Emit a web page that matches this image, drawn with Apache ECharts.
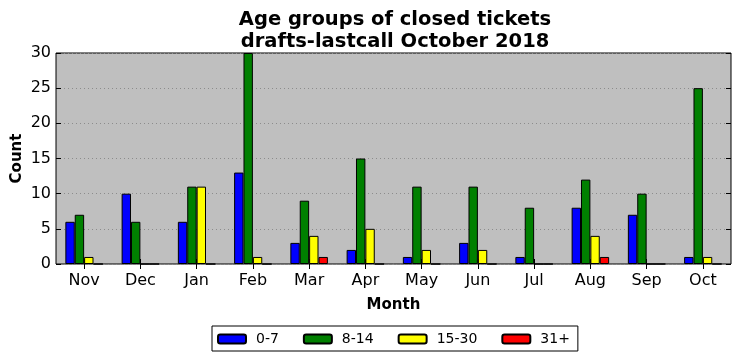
<!DOCTYPE html>
<html><head><meta charset="utf-8">
<script src="https://cdn.jsdelivr.net/npm/echarts@6/dist/echarts.min.js"></script>
<style>html,body{margin:0;padding:0;background:#fff}#c{width:742px;height:361px}</style>
</head><body><div id="c"></div>
<script>
const months = ['Nov','Dec','Jan','Feb','Mar','Apr','May','Jun','Jul','Aug','Sep','Oct'];
const seriesNames = ['0-7','8-14','15-30','31+'];
const seriesColors = ['#0000ff','#008000','#ffff00','#ff0000'];
const age0_7   = [6,10,6,13,3,2,1,3,1,8,7,1];
const age8_14  = [7,6,11,30,9,15,11,11,8,12,10,25];
const age15_30 = [1,0,11,1,4,5,2,2,0,4,0,1];
const age31p   = [0,0,0,0,1,0,0,0,0,1,0,0];
const yTicks = [0,5,10,15,20,25,30];

const values = [age0_7, age8_14, age15_30, age31p];
const font = 'DejaVu Sans';
const chart = echarts.init(document.getElementById('c'));
chart.setOption({
  animation:false,
  textStyle:{fontFamily:font},
  title:{text:'Age groups of closed tickets\ndrafts-lastcall October 2018', left:390, textAlign:'center', top:4,
    textStyle:{fontFamily:font,fontWeight:'bold',fontSize:19.5,lineHeight:22,color:'#000'}},
  grid:{left:56,right:11,top:53,bottom:97,outerBoundsMode:'none',containLabel:false,show:true,backgroundColor:'#bfbfbf',borderColor:'#000',borderWidth:1},
  legend:{data:seriesNames,left:212,top:326,padding:[6,8,5,5],itemGap:24,
    itemWidth:28,itemHeight:9,borderColor:'#000',borderWidth:1,borderRadius:0,
    textStyle:{fontFamily:font,fontSize:14,color:'#000',padding:[0,0,0,5]}},
  xAxis:[
    {type:'category',data:months,position:'bottom',boundaryGap:true,
     name:'Month',nameLocation:'middle',nameGap:34,nameMoveOverlap:false,nameTextStyle:{fontFamily:font,fontWeight:'bold',fontSize:15,color:'#000'},
     axisLine:{show:false},axisTick:{show:true,inside:true,alignWithLabel:true,length:5,lineStyle:{color:'#000'}},
     axisLabel:{fontFamily:font,fontSize:16,color:'#000',margin:9},splitLine:{show:false}},
    {type:'category',data:months,position:'top',boundaryGap:true,
     axisLine:{show:false},axisTick:{show:true,inside:true,alignWithLabel:true,length:5,lineStyle:{color:'#000'}},
     axisLabel:{show:false},splitLine:{show:false}}
  ],
  yAxis:[
    {type:'value',min:0,max:30,interval:5,position:'left',
     name:'Count',nameLocation:'middle',nameGap:31,nameMoveOverlap:false,nameTextStyle:{fontFamily:font,fontWeight:'bold',fontSize:15,color:'#000'},
     axisLine:{show:false},axisTick:{show:true,inside:true,length:5,lineStyle:{color:'#000'}},
     axisLabel:{fontFamily:font,fontSize:16,color:'#000',margin:5,formatter:v=>yTicks.includes(v)?String(v):''},
     splitLine:{show:true,lineStyle:{color:'#8c8c8c',type:[1,3],width:1}}},
    {type:'value',min:0,max:30,interval:5,position:'right',
     axisLine:{show:false},axisTick:{show:true,inside:true,length:5,lineStyle:{color:'#000'}},
     axisLabel:{show:false},splitLine:{show:false}}
  ],
  series: seriesNames.map((n,i)=>({
    name:n,type:'bar',data:values[i],xAxisIndex:0,yAxisIndex:0,
    barGap:'0%',barCategoryGap:'33.3%',
    itemStyle:{color:seriesColors[i],borderColor:'#000',borderWidth:1}
  }))
});
</script></body></html>
